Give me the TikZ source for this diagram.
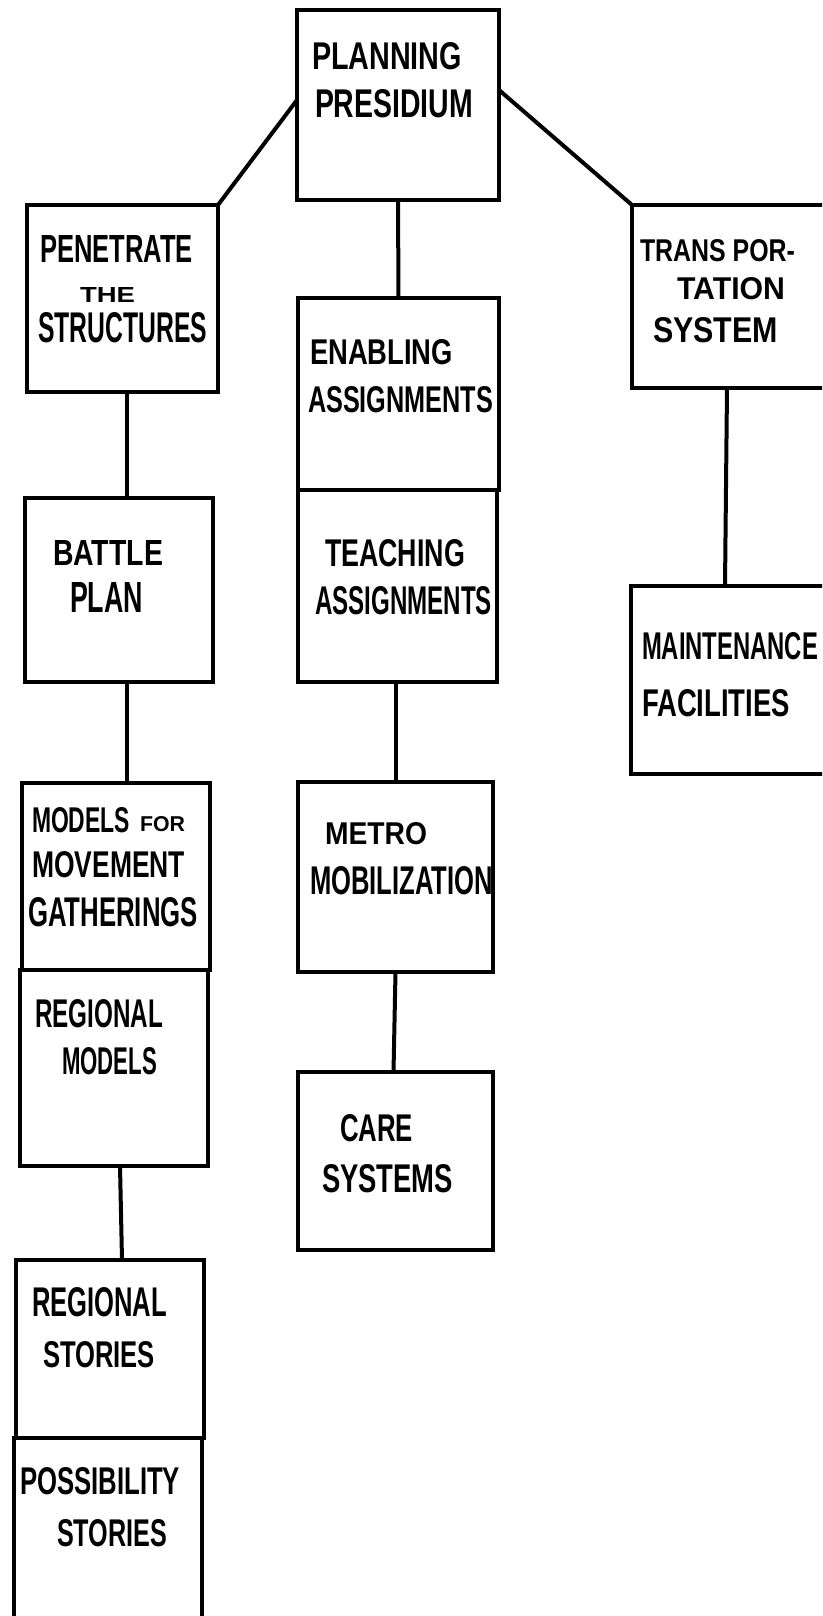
\documentclass[tikz,border=0pt]{standalone}
\usepackage{fontspec}
\usepackage{graphicx}
\newfontfamily\hand{Liberation Sans}
\usetikzlibrary{fit,calc}
\tikzset{
  box/.style={draw, line width=4.5pt, inner sep=0pt, outer sep=0pt},
  lbl/.style={anchor=west, inner sep=0pt, outer sep=0pt},
  link/.style={line width=4pt, line cap=round}
}
\newcommand{\txt}[6]{\node[lbl] (#1) at (#2,#3) {\resizebox{#4pt}{#5pt}{\hand\bfseries #6}};}
\begin{document}
\begin{tikzpicture}[x=1pt,y=-1pt]
\useasboundingbox (0,0) rectangle (822,1616);
\clip (0,0) rectangle (822,1616);
% boxes
\node[box, fit={(297,10) (499,200)}] (pres) {};
\node[box, fit={(27,205) (218,392)}] (pen) {};
\node[box, fit={(298,298) (499,490)}] (enab) {};
\node[box, fit={(298,490) (497,682)}] (teach) {};
\node[box, fit={(632,205) (850,388)}] (trans) {};
\node[box, fit={(25,498) (213,682)}] (battle) {};
\node[box, fit={(631,586) (850,774)}] (maint) {};
\node[box, fit={(22,783) (210,970)}] (models) {};
\node[box, fit={(20,970) (208,1166)}] (regmod) {};
\node[box, fit={(298,782) (493,972)}] (metro) {};
\node[box, fit={(298,1072) (493,1250)}] (care) {};
\node[box, fit={(16,1260) (204,1438)}] (regst) {};
\node[box, fit={(14,1438) (202,1660)}] (poss) {};
% connectors
\draw[link] ([yshift=5pt]pres.west) -- (pen.north east);
\draw[link] ([yshift=15pt]pres.east) -- (trans.north west);
\draw[link] (pres.south) -- (enab.north);
\draw[link] ([xshift=4.5pt]pen.south) -- ([xshift=8pt]battle.north);
\draw[link] ([xshift=8pt]battle.south) -- ([xshift=11pt]models.north);
\draw[link] ([xshift=6pt]regmod.south) -- ([xshift=12pt]regst.north);
\draw[link] ([xshift=-2pt]teach.south) -- (metro.north);
\draw[link] (metro.south) -- ([xshift=-2pt]care.north);
\draw[link] ([xshift=-14pt]trans.south) -- ([xshift=-15.5pt]maint.north);
% texts
\txt{t1}{312}{56.5}{150}{27}{PLANNING}
\txt{t2}{315}{104}{158}{28}{PRESIDIUM}
\txt{t3}{40}{248.5}{153}{27}{PENETRATE}
\txt{t4}{80}{294.5}{55}{15}{THE}
\txt{t5}{38}{328}{169}{30}{STRUCTURES}
\txt{t6}{310}{352.5}{143}{25}{ENABLING}
\txt{t7}{308}{400}{185}{26}{ASSIGNMENTS}
\txt{t8}{325}{553.5}{140}{27}{TEACHING}
\txt{t9}{315}{601}{177}{28}{ASSIGNMENTS}
\txt{t10}{640}{251}{155}{22}{TRANS POR-}
\txt{t11}{677}{289}{108}{22}{TATION}
\txt{t12}{653}{330.5}{125}{25}{SYSTEM}
\txt{t13}{642}{646.5}{176}{27}{MAINTENANCE}
\txt{t14}{642}{703.5}{148}{27}{FACILITIES}
\txt{t15}{53}{552.5}{110}{25}{BATTLE}
\txt{t16}{70}{597}{73}{30}{PLAN}
\txt{t17}{32}{820.5}{98}{25}{MODELS}
\txt{t18}{140}{824.5}{45}{15}{FOR}
\txt{t19}{32}{865}{153}{26}{MOVEMENT}
\txt{t20}{28}{912.5}{170}{29}{GATHERINGS}
\txt{t21}{35}{1014}{128}{28}{REGIONAL}
\txt{t22}{62}{1061.5}{95}{27}{MODELS}
\txt{t23}{325}{834}{102}{22}{METRO}
\txt{t24}{310}{881}{183}{28}{MOBILIZATION}
\txt{t25}{340}{1128.5}{73}{27}{CARE}
\txt{t26}{322}{1179}{131}{28}{SYSTEMS}
\txt{t27}{32}{1302.5}{135}{29}{REGIONAL}
\txt{t28}{43}{1355}{112}{26}{STORIES}
\txt{t29}{20}{1481.5}{160}{27}{POSSIBILITY}
\txt{t30}{57}{1533.5}{110}{27}{STORIES}
\end{tikzpicture}
\end{document}
